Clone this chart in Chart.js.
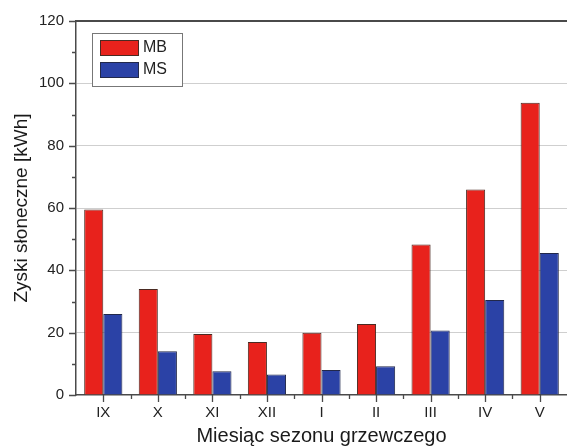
<!DOCTYPE html>
<html>
<head>
<meta charset="utf-8">
<script src="https://cdn.jsdelivr.net/npm/chart.js@4.4.0/dist/chart.umd.min.js"></script>
<style>
  html, body { margin: 0; padding: 0; background: #fff; overflow: hidden; }
  #wrap { width: 567px; height: 448px; }
</style>
</head>
<body>
<div id="wrap"><canvas id="ch" width="567" height="448"></canvas></div>
<script>
const months = ['IX', 'X', 'XI', 'XII', 'I', 'II', 'III', 'IV', 'V'];
const mbValues = [59.5, 34, 19.6, 17, 20, 22.8, 48.3, 65.9, 93.8];
const msValues = [26, 14, 7.6, 6.6, 8, 9.2, 20.7, 30.5, 45.6];
const yMin = 0, yMax = 120, yStep = 10;

const FONT = 'Liberation Sans, Arial, sans-serif';
const AXIS = '#4a4a4a';

// tick marks, top frame line and the boxed legend
const frame = {
  id: 'frame',
  afterDraw(chart) {
    const { ctx, chartArea: a, scales: { x, y } } = chart;
    ctx.save();
    ctx.strokeStyle = AXIS;
    ctx.lineWidth = 2;
    ctx.beginPath();
    ctx.moveTo(a.left - 1, a.top);
    ctx.lineTo(a.right, a.top);
    ctx.stroke();

    ctx.lineWidth = 1.3;
    ctx.beginPath();
    for (let v = yMin; v <= yMax; v += yStep) {
      const py = Math.round(y.getPixelForValue(v)) + 0.5;
      const len = v % 20 === 0 ? 7 : 4;
      ctx.moveTo(a.left - len, py);
      ctx.lineTo(a.left, py);
    }
    months.forEach((m, i) => {
      const px = Math.round(x.getPixelForValue(i)) + 0.5;
      ctx.moveTo(px, a.bottom);
      ctx.lineTo(px, a.bottom + 7);
      if (i > 0) {
        const pm = Math.round(x.getPixelForValue(i - 0.5)) + 0.5;
        ctx.moveTo(pm, a.bottom);
        ctx.lineTo(pm, a.bottom + 4);
      }
    });
    ctx.stroke();

    // legend
    const lx = a.left + 16, ly = a.top + 12;
    ctx.fillStyle = '#fff';
    ctx.fillRect(lx, ly, 90, 53);
    ctx.strokeStyle = '#777';
    ctx.lineWidth = 1;
    ctx.strokeRect(lx + 0.5, ly + 0.5, 90, 53);
    ctx.font = '16px ' + FONT;
    ctx.textBaseline = 'middle';
    chart.data.datasets.forEach((ds, i) => {
      const sy = ly + 7 + i * 22;
      ctx.fillStyle = ds.backgroundColor;
      ctx.fillRect(lx + 8, sy, 38, 15);
      ctx.strokeStyle = ds.borderColor;
      ctx.strokeRect(lx + 8.5, sy + 0.5, 38, 15);
      ctx.fillStyle = '#222';
      ctx.fillText(ds.label, lx + 51, sy + 8);
    });
    ctx.restore();
  }
};

new Chart(document.getElementById('ch'), {
  type: 'bar',
  data: {
    labels: months,
    datasets: [
      { label: 'MB', data: mbValues, backgroundColor: '#e8221c', borderColor: '#4a2a22', borderWidth: 1 },
      { label: 'MS', data: msValues, backgroundColor: '#2b42a6', borderColor: '#22284a', borderWidth: 1 },
    ],
  },
  options: {
    responsive: false,
    animation: false,
    layout: { padding: { top: 16, right: 0, left: 0, bottom: 0 } },
    datasets: { bar: { categoryPercentage: 0.7, barPercentage: 1.0 } },
    plugins: { legend: { display: false }, tooltip: { enabled: false } },
    scales: {
      x: {
        afterFit: s => { s.height = 53; },
        grid: { display: false, drawTicks: false },
        border: { display: true, color: AXIS, width: 1.5 },
        ticks: { color: '#222', font: { family: FONT, size: 15 }, padding: 9 },
        title: {
          display: true, text: 'Miesiąc sezonu grzewczego', color: '#1a1a1a',
          font: { family: FONT, size: 20 }, padding: { top: 0, bottom: 0 },
        },
      },
      y: {
        min: yMin, max: yMax,
        afterFit: s => { s.width = 76; },
        grid: {
          drawTicks: false,
          color: c => (c.tick && c.tick.value % 20 === 0 && c.tick.value > yMin && c.tick.value < yMax) ? '#cfcfcf' : 'rgba(0,0,0,0)',
        },
        border: { display: true, color: AXIS, width: 1.5 },
        ticks: {
          stepSize: yStep, color: '#222', padding: 12,
          font: { family: FONT, size: 15 },
          callback: v => (v % 20 === 0 ? v : ''),
        },
        title: {
          display: true, text: 'Zyski słoneczne [kWh]', color: '#1a1a1a',
          font: { family: FONT, size: 19 }, padding: { top: 10, bottom: 0 },
        },
      },
    },
  },
  plugins: [frame],
});
</script>
</body>
</html>
